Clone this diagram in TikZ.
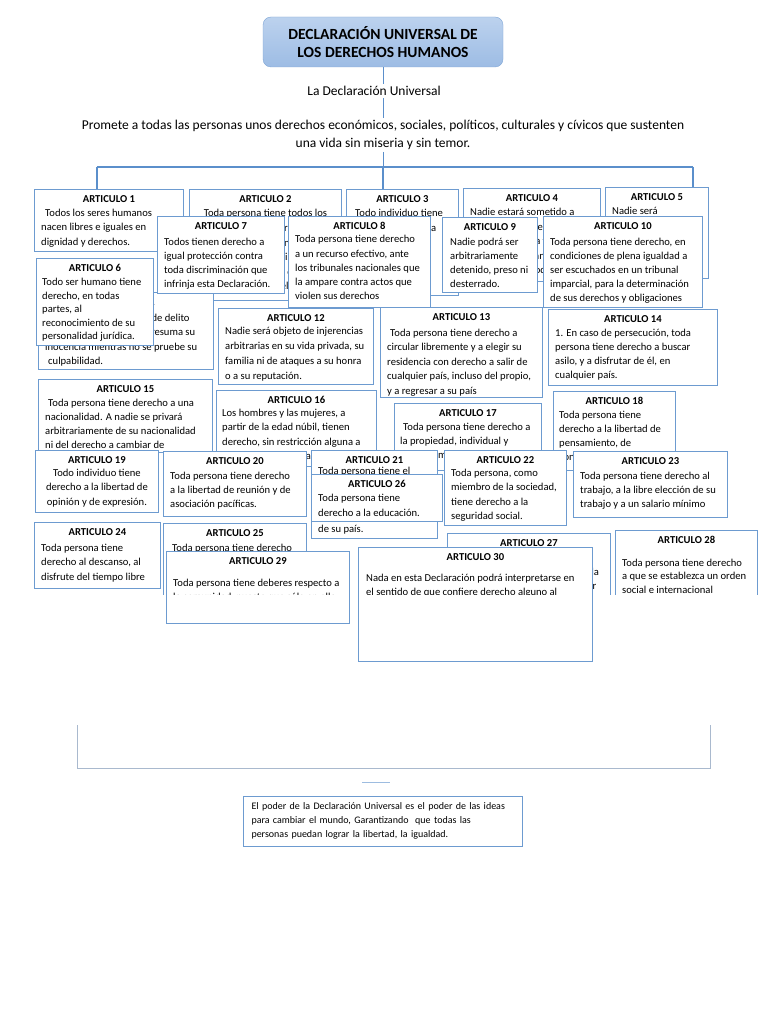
\documentclass[tikz,border=0pt]{standalone}
\usepackage{fontspec}
\setmainfont{Carlito}
\usetikzlibrary{positioning,calc}
\definecolor{frame}{HTML}{6D9BD0}
\definecolor{link}{HTML}{5B8FCB}
\definecolor{headtop}{HTML}{BCD2EE}
\definecolor{headbot}{HTML}{9DBCE4}
\definecolor{headline}{HTML}{7FA6D6}
\definecolor{faint}{HTML}{A9B9CE}

% one article box: name, x1, y1, x2, y2 (pixels, y downwards)
\newcommand{\artframe}[5]{%
  \node[artbox, minimum width={#4pt-#2pt}, minimum height={#5pt-#3pt}] (#1) at (#2,#3) {};}
% same, with the lower edge cut away
\newcommand{\artopen}[5]{%
  \node[artbox, draw=none, minimum width={#4pt-#2pt}, minimum height={#5pt-#3pt}] (#1) at (#2,#3) {};
  \draw[frame, line width=0.9pt] (#1.south west) -- (#1.north west) -- (#1.north east) -- (#1.south east);}
% heading and lines: node, number, first baseline, line skip, indent, lines
\newcommand{\arttext}[6]{%
  \begin{scope}
    \clip (#1.north west) rectangle (#1.south east);
    \clip (0,0) rectangle (768,594);
    \node[arthead] at ([yshift=-13.5pt]#1.north) {ARTICULO #2};
    \foreach \l [count=\i] in {#6}
      \node[artline] at ([xshift=#5pt, yshift={-#3pt-(\i-1)*#4pt}]#1.north west) {\l};
  \end{scope}}
% centred lines: node, number, first baseline, line skip, lines
\newcommand{\artcentre}[5]{%
  \begin{scope}
    \clip (#1.north west) rectangle (#1.south east);
    \node[arthead] at ([yshift=-13.5pt]#1.north) {ARTICULO #2};
    \foreach \l [count=\i] in {#5}
      \node[artline, anchor=base] at ([yshift={-#3pt-(\i-1)*#4pt}]#1.north) {\l};
  \end{scope}}

\begin{document}
\begin{tikzpicture}[x=1pt, y=-1pt,
  artbox/.style={draw=frame, fill=white, line width=0.9pt, anchor=north west, inner sep=0pt},
  arthead/.style={anchor=base, inner sep=0pt, font=\bfseries\fontsize{10.6}{12}\selectfont},
  artline/.style={anchor=base west, inner sep=0pt, font=\fontsize{10.6}{12}\selectfont},
  headbox/.style={draw=headline, top color=headtop, bottom color=headbot, rounded corners=8pt,
                  minimum width=240pt, minimum height=50pt, align=center,
                  font=\bfseries\fontsize{15.5}{18.5}\selectfont},
  lead/.style={align=center, inner sep=2pt, font=\fontsize{13.5}{18}\selectfont},
  notebox/.style={draw=frame, line width=0.9pt, text width=262pt, inner xsep=8.5pt,
                  minimum height=50pt, align=left, font=\fontsize{10}{14}\selectfont},
  link/.style={draw=link, line width=1pt},
  bar/.style={draw=link, line width=1.8pt}]

\useasboundingbox (0,0) rectangle (768,1024);
\fill[white] (0,0) rectangle (768,1024);

\node[headbox] (title) at (383,42) {DECLARACIÓN UNIVERSAL DE\\LOS DERECHOS HUMANOS};
\node[lead] (decl) at (374,91) {La Declaración Universal};
\node[lead] (promete) at (383,135) {Promete a todas las personas unos derechos económicos, sociales, políticos, culturales y cívicos que sustenten\\una vida sin miseria y sin temor.};

\coordinate (barL) at (97,167);
\coordinate (barR) at (693,167);
\coordinate (barC) at (383,167);

% boxes, back to front
\artframe{a1}{34}{189}{183}{251}
\arttext{a1}{1}{28}{14}{7}{{\hspace{4pt}Todos los seres humanos},{nacen libres e iguales en},{dignidad y derechos.}}
\artframe{a2}{189}{189}{341}{300}
\artcentre{a2}{2}{28}{14.5}{{Toda persona tiene todos los},{derechos y libertades},{proclamados en esta},{Declaración, sin distinción},{alguna de raza, color,},{sexo, idioma, religión.}}
\artframe{a3}{346}{189}{458}{295}
\arttext{a3}{3}{28}{14.5}{7}{{\hspace{2pt}Todo individuo tiene},{derecho a la vida, a},{la libertad y a la},{seguridad de su},{persona.}}
\artframe{a4}{463}{188}{600}{281}
\arttext{a4}{4}{27.5}{14.5}{7}{{Nadie estará sometido a},{esclavitud ni a servidumbre},{la esclavitud y la trata},{de esclavos están},{prohibidas en todas sus}}
\artframe{a5}{605}{187}{708}{278}
\arttext{a5}{5}{27.5}{14.5}{7}{{Nadie será},{sometido a torturas},{ni a penas o},{tratos crueles,},{inhumanos o},{degradantes.}}
\artframe{a11}{38}{292}{213}{369}
\arttext{a11}{11}{29}{14.5}{7}{{\hspace{9pt}Toda persona acusada de delito},{tiene derecho a que se presuma su},{inocencia mientras no se pruebe su},{\hspace{3pt}culpabilidad.}}
\artframe{a6}{36}{258}{153}{345}
\arttext{a6}{6}{27.5}{13.5}{6}{{Todo ser humano tiene},{derecho, en todas},{partes, al},{reconocimiento de su},{personalidad jurídica.}}
\artframe{a7}{157}{216}{284}{293}
\arttext{a7}{7}{29}{14}{7}{{Todos tienen derecho a},{igual protección contra},{toda discriminación que},{infrinja esta Declaración.}}
\artframe{a8}{288}{216}{430}{307}
\arttext{a8}{8}{27}{14}{7}{{Toda persona tiene derecho},{a un recurso efectivo, ante},{los tribunales nacionales que},{la ampare contra actos que},{violen sus derechos}}
\artframe{a9}{442}{217}{537}{292}
\arttext{a9}{9}{28}{14}{8}{{Nadie podrá ser},{arbitrariamente},{detenido, preso ni},{desterrado.}}
\artframe{a10}{543}{216}{702}{307}
\arttext{a10}{10}{29}{14}{7}{{Toda persona tiene derecho, en},{condiciones de plena igualdad a},{ser escuchados en un tribunal},{imparcial, para la determinación},{de sus derechos y obligaciones}}
\artframe{a12}{218}{308}{373}{384}
\arttext{a12}{12}{26}{15}{7}{{Nadie será objeto de injerencias},{arbitrarias en su vida privada, su},{familia ni de ataques a su honra},{o a su reputación.}}
\artframe{a13}{380}{307}{542}{397}
\arttext{a13}{13}{29}{14.6}{7}{{\hspace{3pt}Toda persona tiene derecho a},{circular libremente y a elegir su},{residencia con derecho a salir de},{cualquier país, incluso del propio,},{y a regresar a su país}}
\artframe{a14}{548}{309}{717}{385}
\arttext{a14}{14}{27}{14.3}{7}{{1. En caso de persecución, toda},{persona tiene derecho a buscar},{asilo, y a disfrutar de él, en},{cualquier país.}}
\artframe{a15}{38}{379}{212}{452}
\arttext{a15}{15}{27}{14.3}{7}{{\hspace{3pt}Toda persona tiene derecho a una},{nacionalidad. A nadie se privará},{arbitrariamente de su nacionalidad},{ni del derecho a cambiar de},{nacionalidad.}}
\artframe{a16}{216}{390}{376}{466}
\arttext{a16}{16}{26}{14.6}{6}{{Los hombres y las mujeres, a},{partir de la edad núbil, tienen},{derecho, sin restricción alguna a},{causa de raza, a casarse}}
\artframe{a17}{394}{403}{541}{470}
\arttext{a17}{17}{27}{14}{6}{{\hspace{3pt}Toda persona tiene derecho a},{la propiedad, individual y},{colectivamente. Nadie será}}
\artframe{a18}{553}{391}{675}{470}
\arttext{a18}{18}{27}{14}{6}{{Toda persona tiene},{derecho a la libertad de},{pensamiento, de},{conciencia y de religión}}
\artframe{a19}{35}{450}{158}{512}
\artcentre{a19}{19}{26}{14.5}{{Todo individuo tiene},{derecho a la libertad de},{opinión y de expresión.}}
\artframe{a20}{163}{451}{306}{516}
\arttext{a20}{20}{28}{14}{7}{{Toda persona tiene derecho},{a la libertad de reunión y de},{asociación pacíficas.}}
\artframe{a21}{311}{450}{437}{538}
\arttext{a21}{21}{24}{14.5}{7}{{Toda persona tiene el},{derecho a participar en el},{gobierno de su país,},{y de acceso a las funciones},{de su país.}}
\artframe{a26}{311}{474}{442}{521}
\arttext{a26}{26}{27}{15}{7}{{Toda persona tiene},{derecho a la educación.}}
\artframe{a22}{444}{450}{566}{525}
\arttext{a22}{22}{26}{14.5}{7}{{Toda persona, como},{miembro de la sociedad,},{tiene derecho a la},{seguridad social.}}
\artframe{a23}{573}{451}{727}{517}
\arttext{a23}{23}{28}{14}{7}{{Toda persona tiene derecho al},{trabajo, a la libre elección de su},{trabajo y a un salario mínimo}}
\artframe{a24}{34}{522}{160}{588}
\arttext{a24}{24}{29}{14.5}{7}{{Toda persona tiene},{derecho al descanso, al},{disfrute del tiempo libre}}
\artopen{a25}{163}{523}{306}{594}
\arttext{a25}{25}{28}{14.5}{9}{{Toda persona tiene derecho},{a un nivel de vida adecuado}}
\artopen{a27}{447}{533}{610}{594}
\arttext{a27}{27}{28}{14}{7}{{Toda persona tiene derecho a},{tomar parte libremente en la vida},{cultural de la comunidad, a gozar}}
\artopen{a28}{615}{530}{757}{594}
\arttext{a28}{28}{36}{13.5}{7}{{Toda persona tiene derecho},{a que se establezca un orden},{social e internacional}}
\artframe{a29}{166}{551}{349}{623}
\arttext{a29}{29}{35}{14}{7}{{Toda persona tiene deberes respecto a},{la comunidad, puesto que sólo en ella}}
\artframe{a30}{358}{547}{592}{661}
\arttext{a30}{30}{34}{14.5}{8}{{Nada en esta Declaración podrá interpretarse en},{el sentido de que confiere derecho alguno al}}

% connectors
\draw[link] (title) -- (title.south |- decl.north);
\draw[link] (title.south |- decl.south) -- (title.south |- promete.north);
\draw[link] (title.south |- promete.south) -- (barC);
\draw[bar] (barL) -- (barR);
\draw[bar] (barL) -- (barL |- a1.north);
\draw[bar] (barC) -- (barC |- a3.north);
\draw[bar] (barR) -- (barR |- a5.north);

% lower part
\draw[faint, line width=0.8pt] (77,725) -- (77,768) -- (710,768) -- (710,725);
\draw[link!60, line width=0.8pt] (362,782) -- (390,782);
\node[notebox] (poder) at (382.5,821) {El poder de la Declaración Universal es el poder de las ideas\\para cambiar el mundo, Garantizando\ \ que todas las\\personas puedan lograr la libertad, la igualdad.};
\end{tikzpicture}
\end{document}
